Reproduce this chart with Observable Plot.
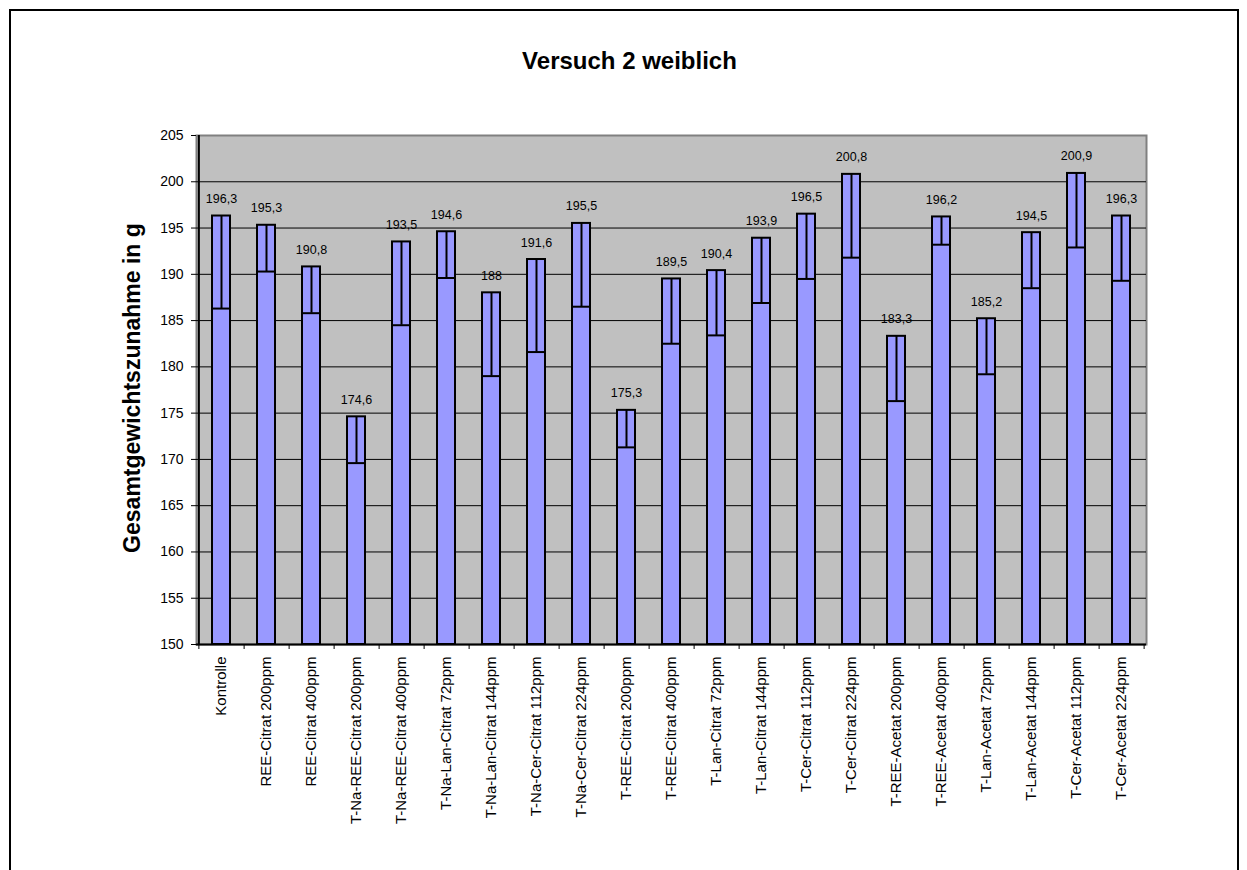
<!DOCTYPE html>
<html><head><meta charset="utf-8">
<script src="https://cdn.jsdelivr.net/npm/d3@7"></script>
<script src="https://cdn.jsdelivr.net/npm/@observablehq/plot@0.6"></script>
<style>
body{margin:0;background:#fff;font-family:"Liberation Sans",Arial,sans-serif;}
#wrap{position:relative;width:1247px;height:870px;overflow:hidden;background:#fff;}
#border{position:absolute;left:9px;top:9px;width:1226px;height:900px;border:2px solid #000;}
#title{position:absolute;left:0;width:1259px;top:47px;text-align:center;font-weight:bold;font-size:24px;color:#000;}
#ylabel{position:absolute;left:132px;top:388px;transform:translate(-50%,-50%) rotate(-90deg);font-weight:bold;font-size:23px;white-space:nowrap;color:#000;}
#chart{position:absolute;left:0;top:0;}
</style></head>
<body>
<div id="wrap">
  <div id="border"></div>
  <div id="chart"></div>
  <div id="title">Versuch 2 weiblich</div>
  <div id="ylabel">Gesamtgewichtszunahme in g</div>
</div>
<script>
const categories = ["Kontrolle","REE-Citrat 200ppm","REE-Citrat 400ppm","T-Na-REE-Citrat 200ppm","T-Na-REE-Citrat 400ppm","T-Na-Lan-Citrat 72ppm","T-Na-Lan-Citrat 144ppm","T-Na-Cer-Citrat 112ppm","T-Na-Cer-Citrat 224ppm","T-REE-Citrat 200ppm","T-REE-Citrat 400ppm","T-Lan-Citrat 72ppm","T-Lan-Citrat 144ppm","T-Cer-Citrat 112ppm","T-Cer-Citrat 224ppm","T-REE-Acetat 200ppm","T-REE-Acetat 400ppm","T-Lan-Acetat 72ppm","T-Lan-Acetat 144ppm","T-Cer-Acetat 112ppm","T-Cer-Acetat 224ppm"];
const means = [196.3,195.3,190.8,174.6,193.5,194.6,188,191.6,195.5,175.3,189.5,190.4,193.9,196.5,200.8,183.3,196.2,185.2,194.5,200.9,196.3];
const errors = [10,5,5,5,9,5,9,10,9,4,7,7,7,7,9,7,3,6,6,8,7];
const yTicks = [150,155,160,165,170,175,180,185,190,195,200,205];
const gridLines = [155,160,165,170,175,180,185,190,195,200];

const data = categories.map((c,i)=>({cat:c, mean:means[i], low:means[i]-errors[i]}));

const W=1247, H=870, ml=196, mr=101, mt=135, mb=H-644;
const step=(W-ml-mr)/categories.length;

const chart = Plot.plot({
  width:W, height:H, marginLeft:ml, marginRight:mr, marginTop:mt, marginBottom:mb,
  style:{fontFamily:"'Liberation Sans', Arial, sans-serif", color:"#000", background:"transparent", overflow:"visible"},
  x:{domain:categories, paddingInner:0.6, paddingOuter:0.3, align:0.5, label:null},
  y:{domain:[150,205], label:null},
  marks:[
    Plot.frame({fill:"#C0C0C0", stroke:"#808080", strokeWidth:2}),
    Plot.ruleY(gridLines, {stroke:"#000", strokeWidth:1}),
    Plot.barY(data, {x:"cat", y1:150, y2:"mean", fill:"#9999FF", stroke:"#000", strokeWidth:2}),
    Plot.ruleX(data, {x:"cat", y1:"low", y2:"mean", stroke:"#000", strokeWidth:2}),
    Plot.tickY(data, {x:"cat", y:"low", stroke:"#000", strokeWidth:2}),
    Plot.text(data, {x:"cat", y:"mean", text:d=>String(d.mean).replace(".", ","), dy:-17, fontSize:12.5, fill:"#000"}),
    Plot.ruleY([150], {stroke:"#000", strokeWidth:2}),
    Plot.ruleX([categories[0]], {dx:-step/2, stroke:"#000", strokeWidth:2}),
    Plot.axisY({ticks:yTicks, tickSize:5, tickPadding:8, fontSize:14, label:null, tickFormat:d=>String(d)}),
    Plot.axisX({tickSize:0, tickRotate:-90, tickPadding:12, fontSize:15, label:null}),
    Plot.axisX({tickSize:5, tickFormat:()=>"", dx:step/2, label:null}),
    Plot.axisX({ticks:[categories[0]], tickSize:5, tickFormat:()=>"", dx:-step/2, label:null})
  ]
});
document.getElementById("chart").appendChild(chart);
</script>
</body></html>
